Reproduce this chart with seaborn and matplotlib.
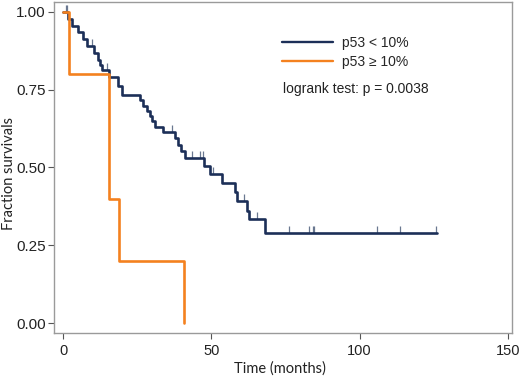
import numpy as np
import pandas as pd
import matplotlib
matplotlib.use("Agg")
import matplotlib.pyplot as plt
from matplotlib.path import Path
from matplotlib.lines import Line2D
import seaborn as sns

# ---- data ----
low_times = [0, 1.5, 2.8, 5.0, 6.7, 8.0, 10.5, 11.8, 12.5, 13.2, 15.5, 18.6, 19.7,
             25.9, 27.0, 28.1, 29.3, 29.8, 31.0, 33.8, 37.7, 38.7, 39.8, 41.2,
             47.5, 49.5, 53.5, 57.8, 58.5, 62.0, 62.6, 68.2, 126.0]
low_surv = [1.0, 0.978, 0.956, 0.934, 0.912, 0.889, 0.868, 0.847, 0.830, 0.812, 0.792, 0.762, 0.733,
            0.716, 0.699, 0.682, 0.665, 0.648, 0.631, 0.615, 0.594, 0.573, 0.552, 0.530,
            0.505, 0.479, 0.449, 0.420, 0.392, 0.360, 0.333, 0.290, 0.290]
low_censor = [0.8, 1.2, 6.8, 9.6, 14.6, 36.6, 43.5, 46.1, 47.0, 50.6, 61.1, 65.3,
              76.3, 82.8, 84.2, 84.6, 105.9, 113.7, 125.9]

high_times = [0, 2.0, 15.3, 18.9, 40.7]
high_surv = [1.0, 0.8, 0.4, 0.2, 0.0]

labels = ["p53 < 10%", "p53 \u2265 10%"]
xticks = [0, 50, 100, 150]
yticks = [0.0, 0.25, 0.5, 0.75, 1.0]
logrank_text = "logrank test: p = 0.0038"

BLUE = "#1c2f58"
ORANGE = "#f4811f"
CENS = "#6a7890"

df = pd.concat([
    pd.DataFrame({"time": low_times, "surv": low_surv, "group": labels[0]}),
    pd.DataFrame({"time": high_times, "surv": high_surv, "group": labels[1]}),
], ignore_index=True)

sns.set_theme(style="white")
plt.rcParams["font.family"] = ["Liberation Sans", "DejaVu Sans"]

fig = plt.figure(figsize=(5.2, 3.79), dpi=100)
ax = fig.add_axes([54 / 520, 1 - 333 / 379, (512 - 54) / 520, (333 - 2) / 379])

sns.lineplot(data=df, x="time", y="surv", hue="group", hue_order=labels,
             palette=[BLUE, ORANGE], estimator=None, sort=False,
             drawstyle="steps-post", linewidth=1.9, legend=False, ax=ax)

# censor ticks (upward from the curve)
lt = np.array(low_times)
ls = np.array(low_surv)
idx = np.searchsorted(lt, low_censor, side="right") - 1
cens_y = ls[idx]
tick_marker = Path([(0, 0), (0, 1)], [Path.MOVETO, Path.LINETO])
ax.plot(low_censor, cens_y, linestyle="none", marker=tick_marker, ms=10,
        mec=CENS, mew=0.9, zorder=1)

ax.set_xlim(-3.14, 151.4)
ax.set_ylim(-0.032, 1.032)
ax.set_xticks(xticks)
ax.set_xticklabels([str(v) for v in xticks])
ax.set_yticks(yticks)
ax.set_yticklabels([f"{v:.2f}" for v in yticks])
ax.tick_params(axis="both", which="major", length=4, width=0.8, color="#555555",
               labelcolor="#222222", direction="out")
ax.tick_params(axis="y", pad=2, labelsize=11)
ax.tick_params(axis="x", pad=4, labelsize=10.5)
ax.xaxis.set_ticks_position("bottom")
ax.yaxis.set_ticks_position("left")
for s in ax.spines.values():
    s.set_color("#9a9a9a")
    s.set_linewidth(1.0)
    s.set_visible(True)

ax.set_xlabel("Time (months)", fontsize=10.5, family=["Lato", "DejaVu Sans"], color="#222222")
ax.set_ylabel("Fraction survivals", fontsize=10.5, family=["Lato", "DejaVu Sans"], color="#222222")
ax.xaxis.set_label_coords((280 - 54) / (512 - 54), -(369 - 333) / (333 - 2), transform=ax.transAxes)
ax.yaxis.set_label_coords(-(54 - 9) / (512 - 54), (333 - 173) / (333 - 2), transform=ax.transAxes)
ax.xaxis.label.set_va("center")
ax.yaxis.label.set_va("center")

handles = [Line2D([], [], color=BLUE, lw=1.7), Line2D([], [], color=ORANGE, lw=1.7)]
fig.legend(handles, labels, loc="upper left", bbox_to_anchor=(281.7 / 520, 1 - 36 / 379),
           bbox_transform=fig.transFigure, frameon=False, fontsize=10,
           handlelength=3.7, handletextpad=0.65, labelspacing=0.37,
           borderpad=0, borderaxespad=0)
fig.text(283.3 / 520, 1 - 89.3 / 379, logrank_text, fontsize=10, va="center", ha="left",
         color="#222222")

fig.savefig("out.png", dpi=100)
